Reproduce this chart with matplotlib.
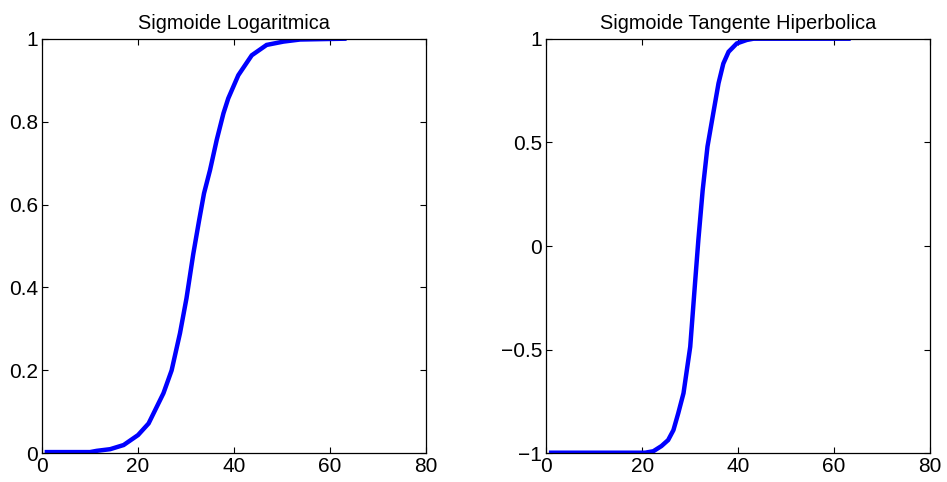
import matplotlib
matplotlib.use("Agg")
import matplotlib.pyplot as plt
from matplotlib.ticker import FuncFormatter

plt.rcParams['font.family'] = ['Liberation Sans', 'DejaVu Sans']

# logistic sigmoid samples
x_log = [1, 10, 11.4, 14.2, 17, 20, 22.2, 25.3, 27, 28.75, 30.1, 31.5, 32.7,
         33.75, 35, 36.4, 37.8, 38.8, 40.9, 43.7, 46.8, 50.3, 53.75, 63]
y_log = [0.003, 0.003, 0.006, 0.01, 0.02, 0.044, 0.072, 0.145, 0.2, 0.29,
         0.374, 0.48, 0.56, 0.627, 0.683, 0.756, 0.82, 0.856, 0.912, 0.96,
         0.985, 0.993, 0.998, 1.0]

# hyperbolic tangent sigmoid samples
x_tan = [1, 20.6, 22.3, 24, 25.4, 26.5, 27.5, 28.6, 30, 31, 31.7, 32.6, 33.6,
         34.8, 35.9, 36.9, 38, 39.7, 41.8, 43.2, 63]
y_tan = [-0.997, -0.997, -0.99, -0.965, -0.936, -0.888, -0.807, -0.71,
         -0.486, -0.18, 0.03, 0.27, 0.48, 0.64, 0.785, 0.88, 0.937, 0.977,
         0.994, 1.0, 1.0]

titles = ["Sigmoide Logaritmica", "Sigmoide Tangente Hiperbolica"]
x_ticks = [0, 20, 40, 60, 80]
y_ticks_log = [0, 0.2, 0.4, 0.6, 0.8, 1]
y_ticks_tan = [-1, -0.5, 0, 0.5, 1]


def tick_text(v, pos):
    return f"{v:g}".replace('-', '\u2212')


fig = plt.figure(figsize=(9.47, 4.82), dpi=100)
ax1 = fig.add_axes([0.0444, 0.0595, 0.4054, 0.8602])
ax2 = fig.add_axes([0.5769, 0.0595, 0.4052, 0.8602])

panels = [(ax1, x_log, y_log, y_ticks_log, (0, 1)),
          (ax2, x_tan, y_tan, y_ticks_tan, (-1, 1))]

for i, (ax, xs, ys, yt, ylim) in enumerate(panels):
    ax.plot(xs, ys, color=(0, 0, 1), linewidth=3.2, solid_joinstyle='miter')
    ax.set_xlim(0, 80)
    ax.set_ylim(*ylim)
    ax.set_xticks(x_ticks)
    ax.set_yticks(yt)
    ax.xaxis.set_major_formatter(FuncFormatter(tick_text))
    ax.yaxis.set_major_formatter(FuncFormatter(tick_text))
    ax.tick_params(direction='in', length=4, width=0.8, top=True, right=True,
                   labelsize=15, pad=3)
    for sp in ax.spines.values():
        sp.set_linewidth(0.9)
    ax.set_title(titles[i], fontsize=14.3, pad=7)

fig.savefig("out.png", dpi=100)
